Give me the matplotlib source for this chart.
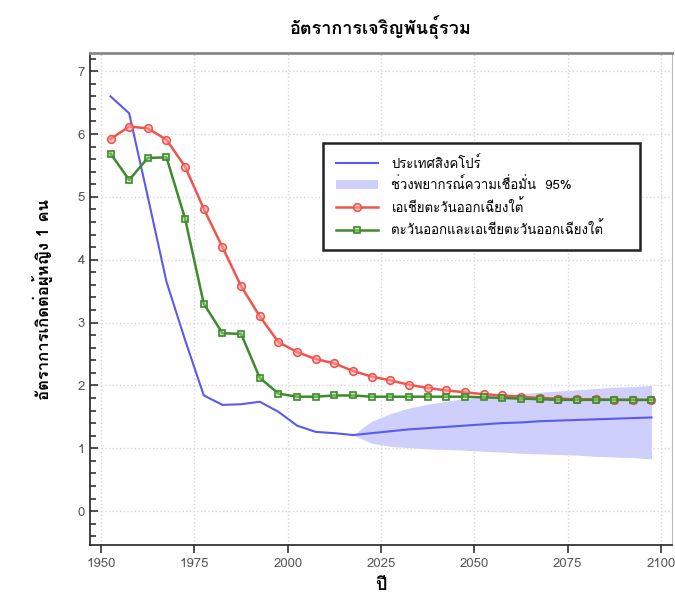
import matplotlib
matplotlib.use("Agg")
import matplotlib.pyplot as plt
from matplotlib import font_manager
from matplotlib.ft2font import FT2Font
from matplotlib.ticker import MultipleLocator

# years at mid-points of the 5-year periods
years = [1952.5 + 5 * i for i in range(30)]

sg_past_years = years[:14]
sg_past = [6.60, 6.33, 5.00, 3.65, 2.72, 1.84, 1.69, 1.70, 1.74, 1.58,
           1.36, 1.26, 1.24, 1.21]

sg_proj_years = years[13:]
sg_proj = [1.21, 1.24, 1.27, 1.30, 1.32, 1.34, 1.36, 1.38, 1.40, 1.41,
           1.43, 1.44, 1.45, 1.46, 1.47, 1.48, 1.49]
band_hi = [1.21, 1.43, 1.55, 1.64, 1.70, 1.75, 1.79, 1.82, 1.85, 1.87,
           1.89, 1.91, 1.93, 1.95, 1.97, 1.98, 2.00]
band_lo = [1.21, 1.08, 1.03, 1.01, 0.99, 0.98, 0.97, 0.95, 0.94, 0.92,
           0.91, 0.90, 0.89, 0.87, 0.86, 0.85, 0.83]

sea = [5.92, 6.12, 6.09, 5.91, 5.48, 4.81, 4.20, 3.58, 3.10, 2.69,
       2.53, 2.42, 2.35, 2.23, 2.14, 2.08, 2.01, 1.96, 1.92, 1.89,
       1.86, 1.84, 1.82, 1.80, 1.79, 1.78, 1.78, 1.77, 1.77, 1.77]
esea = [5.69, 5.27, 5.62, 5.63, 4.65, 3.30, 2.83, 2.82, 2.12, 1.87,
        1.82, 1.82, 1.84, 1.84, 1.82, 1.82, 1.82, 1.82, 1.82, 1.82,
        1.81, 1.80, 1.79, 1.78, 1.77, 1.77, 1.77, 1.77, 1.77, 1.77]

labels = ["ประเทศสิงคโปร์", "ช่วงพยากรณ์ความเชื่อมั่น  95%",
          "เอเชียตะวันออกเฉียงใต้", "ตะวันออกและเอเชียตะวันออกเฉียงใต้"]
title = "อัตราการเจริญพันธุ์รวม"
xlabel = "ปี"
ylabel = "อัตราการเกิดต่อผู้หญิง 1 คน"


def thai_family():
    # first installed font that actually carries Thai glyphs
    for f in font_manager.fontManager.ttflist:
        try:
            if 0x0E2D in FT2Font(f.fname).get_charmap():
                return f.name
        except Exception:
            continue
    return "DejaVu Sans"


thai = [thai_family(), "DejaVu Sans"]
plt.rcParams["font.family"] = thai

BLUE = "#5a5af0"
BAND = "#cfcffb"
RED = "#f0554d"
GREEN = "#3d8a2c"
TICK = "#555555"

fig = plt.figure(figsize=(6.75, 5.96), dpi=100)
fig.patch.set_facecolor("white")
ax = fig.add_axes([90 / 675, 51 / 596, 582 / 675, 492 / 596])

ax.plot(sg_past_years, sg_past, color=BLUE, lw=1.5, label=labels[0])
ax.fill_between(sg_proj_years, band_lo, band_hi, color=BAND, lw=0,
                label=labels[1])
ax.plot(sg_proj_years, sg_proj, color=BLUE, lw=1.5)
ax.plot(years, sea, color=RED, lw=1.8, marker="o", ms=5.5,
        mfc=(1, 0.65, 0.65, 0.5), mec=RED, mew=1.2, label=labels[2])
ax.plot(years, esea, color=GREEN, lw=1.8, marker="s", ms=5,
        mfc=(0.6, 0.85, 0.5, 0.5), mec=GREEN, mew=1.2, label=labels[3])

ax.set_xlim(1947, 2103)
ax.set_ylim(-0.54, 7.29)
ax.set_xticks([1950, 1975, 2000, 2025, 2050, 2075, 2100])
ax.yaxis.set_major_locator(MultipleLocator(1))
ax.yaxis.set_minor_locator(MultipleLocator(0.2))
ax.tick_params(axis="x", direction="out", length=6, width=1.2,
               labelsize=9.5, labelcolor=TICK, color="#333333")
ax.tick_params(axis="y", which="both", direction="in", width=1.2,
               labelsize=9.5, labelcolor=TICK, color="#333333")
ax.tick_params(axis="y", which="major", length=6)
ax.tick_params(axis="y", which="minor", length=4)
ax.grid(True, color="#d8d8d8", ls=":", lw=1)
ax.set_axisbelow(True)

for side in ("left", "bottom"):
    ax.spines[side].set_color("#222222")
    ax.spines[side].set_linewidth(1.2)
ax.spines["top"].set_color("#888888")
ax.spines["top"].set_linewidth(2)
ax.spines["right"].set_color("#bbbbbb")

leg = ax.legend(loc="upper left", bbox_to_anchor=(0.40, 0.60, 0.545, 0.218),
                mode="expand", fancybox=False, framealpha=1,
                edgecolor="#222222", fontsize=9.5, handlelength=3.2,
                borderpad=1.0, labelspacing=0.5, borderaxespad=0,
                handletextpad=1.0)
leg.get_frame().set_linewidth(1.8)

ax.set_title(title, fontsize=13, fontweight="bold", pad=14)
ax.set_xlabel(xlabel, fontsize=13, fontweight="bold", labelpad=4)
ax.set_ylabel(ylabel, fontsize=12, fontweight="bold", labelpad=18)

fig.savefig("out.png", dpi=100, facecolor="white")
